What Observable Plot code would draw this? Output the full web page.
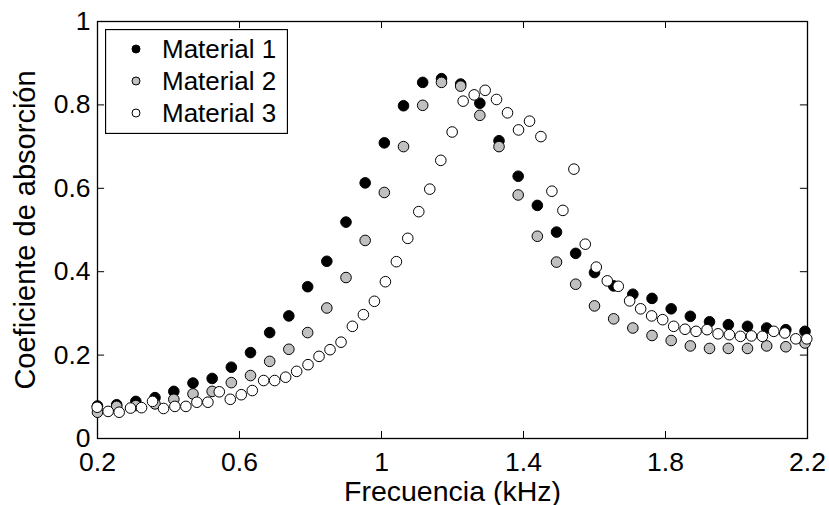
<!DOCTYPE html>
<html><head><meta charset="utf-8">
<script src="https://cdn.jsdelivr.net/npm/d3@7"></script>
<script src="https://cdn.jsdelivr.net/npm/@observablehq/plot@0.6"></script>
<style>
body{margin:0;background:#fff;font-family:"Liberation Sans",Arial,sans-serif;}
#wrap{position:relative;width:829px;height:505px;overflow:hidden;}
#legend{position:absolute;left:105px;top:29px;}
</style>
</head><body>
<div id="wrap"><div id="chart"></div><div id="legend"></div></div>
<script>
// Frequencies (kHz) for Materials 1 and 2
const freq12 = [0.200,0.254,0.308,0.362,0.415,0.469,0.523,0.577,0.631,0.685,0.739,0.792,0.846,0.900,0.954,1.008,1.062,1.116,1.169,1.223,1.277,1.331,1.385,1.439,1.493,1.547,1.600,1.654,1.708,1.762,1.816,1.870,1.924,1.977,2.031,2.085,2.139,2.193];
const material1 = [0.078,0.081,0.089,0.098,0.113,0.133,0.144,0.171,0.206,0.254,0.294,0.364,0.425,0.519,0.613,0.709,0.798,0.854,0.863,0.850,0.804,0.714,0.629,0.559,0.495,0.444,0.398,0.366,0.346,0.336,0.311,0.293,0.280,0.273,0.269,0.265,0.261,0.257];
const material2 = [0.063,0.077,0.079,0.083,0.094,0.107,0.113,0.134,0.151,0.185,0.214,0.254,0.313,0.386,0.475,0.590,0.700,0.799,0.854,0.845,0.775,0.700,0.584,0.485,0.423,0.370,0.318,0.287,0.265,0.247,0.235,0.222,0.216,0.216,0.216,0.222,0.220,0.229];
// Frequencies (kHz) for Material 3
const freq3 = [0.199,0.230,0.261,0.293,0.324,0.355,0.386,0.418,0.449,0.480,0.511,0.543,0.574,0.605,0.636,0.668,0.699,0.730,0.761,0.793,0.824,0.855,0.886,0.918,0.949,0.980,1.011,1.042,1.074,1.105,1.136,1.167,1.199,1.230,1.261,1.292,1.324,1.355,1.386,1.417,1.449,1.480,1.511,1.542,1.574,1.605,1.636,1.667,1.699,1.730,1.761,1.792,1.823,1.855,1.886,1.917,1.948,1.980,2.011,2.042,2.073,2.105,2.136,2.167,2.198];
const material3 = [0.075,0.065,0.063,0.073,0.074,0.089,0.072,0.077,0.077,0.087,0.087,0.112,0.094,0.105,0.115,0.139,0.139,0.147,0.161,0.177,0.197,0.213,0.231,0.269,0.297,0.329,0.376,0.424,0.480,0.544,0.598,0.667,0.735,0.809,0.824,0.835,0.813,0.781,0.740,0.761,0.724,0.593,0.547,0.646,0.466,0.411,0.378,0.365,0.330,0.311,0.294,0.285,0.269,0.262,0.257,0.261,0.251,0.249,0.245,0.246,0.245,0.257,0.253,0.239,0.239];

const seriesNames = ["Material 1","Material 2","Material 3"];
const seriesFill = ["#000000","#c0c0c0","#ffffff"];
const xTicks = [0.2,0.6,1,1.4,1.8,2.2];
const yTicks = [0,0.2,0.4,0.6,0.8,1];
const xLabel = "Frecuencia (kHz)";
const yLabel = "Coeficiente de absorción";

const toRows = (xs, ys) => xs.map((x, i) => ({x, y: ys[i]}));
const d1 = toRows(freq12, material1);
const d2 = toRows(freq12, material2);
const d3rows = toRows(freq3, material3);

const font = "Liberation Sans, Arial, sans-serif";
const chart = Plot.plot({
  width: 829, height: 505,
  marginLeft: 97, marginRight: 22, marginTop: 21, marginBottom: 67,
  style: {fontFamily: font, fontSize: "26.5px", color: "black", background: "white", overflow: "visible"},
  x: {domain: [0.2, 2.2], ticks: xTicks, tickSize: 0, tickPadding: 14, tickFormat: d => String(d), label: null},
  y: {domain: [0, 1], ticks: yTicks, tickSize: 0, tickPadding: 7, tickFormat: d => String(d), label: null},
  marks: [
    Plot.ruleX(xTicks, {x: d => d, y1: 0, y2: 0.017, stroke: "black"}),
    Plot.ruleX(xTicks, {x: d => d, y1: 0.983, y2: 1, stroke: "black"}),
    Plot.ruleY(yTicks, {y: d => d, x1: 0.2, x2: 0.22, stroke: "black"}),
    Plot.ruleY(yTicks, {y: d => d, x1: 2.18, x2: 2.2, stroke: "black"}),
    Plot.frame({stroke: "black", strokeWidth: 1.3}),
    Plot.dot(d1, {x: "x", y: "y", r: 5.3, fill: seriesFill[0], stroke: "black", strokeWidth: 1}),
    Plot.dot(d2, {x: "x", y: "y", r: 5.3, fill: seriesFill[1], stroke: "black", strokeWidth: 1}),
    Plot.dot(d3rows, {x: "x", y: "y", r: 5.3, fill: seriesFill[2], stroke: "black", strokeWidth: 1}),
    Plot.text([xLabel], {text: d => d, frameAnchor: "bottom", lineAnchor: "middle", textAnchor: "middle", dy: 53, fontSize: 28.5, fill: "black"}),
    Plot.text([yLabel], {text: d => d, frameAnchor: "left", lineAnchor: "middle", textAnchor: "middle", dx: -72, rotate: -90, fontSize: 29, fill: "black"})
  ]
});
document.getElementById("chart").appendChild(chart);

// Legend
const lw = 183, lh = 105;
const leg = d3.select("#legend").append("svg").attr("width", lw).attr("height", lh)
  .style("font-family", font);
leg.append("rect").attr("x", 0.5).attr("y", 0.5).attr("width", lw - 1).attr("height", lh - 1)
  .attr("fill", "white").attr("stroke", "black").attr("stroke-width", 1.3);
const rows = leg.selectAll("g").data(seriesNames).join("g")
  .attr("transform", (d, i) => `translate(0,${20 + i * 32})`);
rows.append("circle").attr("cx", 31).attr("cy", 0).attr("r", 4)
  .attr("fill", (d, i) => seriesFill[i]).attr("stroke", "black");
rows.append("text").attr("x", 57).attr("y", 0).attr("dy", "0.35em")
  .attr("font-size", 26).text(d => d);
</script>
</body></html>
